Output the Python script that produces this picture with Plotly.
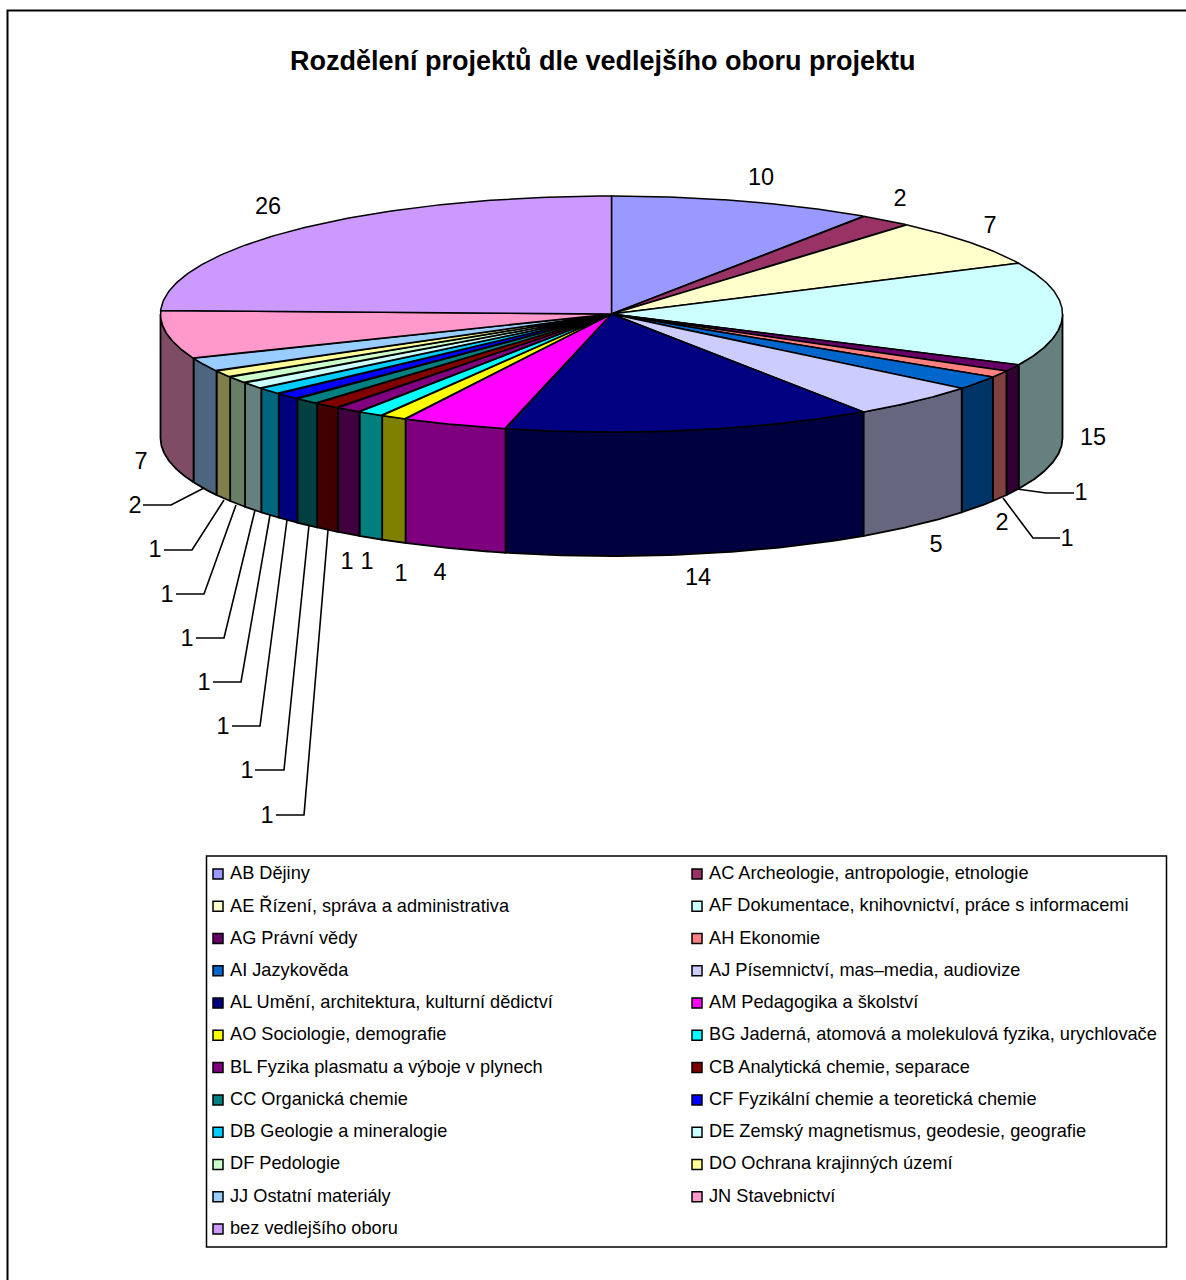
import numpy as np
import plotly.graph_objects as go

TITLE = "Rozdělení projektů dle vedlejšího oboru projektu"
categories = [
    "AB Dějiny", "AC Archeologie, antropologie, etnologie",
    "AE Řízení, správa a administrativa", "AF Dokumentace, knihovnictví, práce s informacemi",
    "AG Právní vědy", "AH Ekonomie",
    "AI Jazykověda", "AJ Písemnictví, mas–media, audiovize",
    "AL Umění, architektura, kulturní dědictví", "AM Pedagogika a školství",
    "AO Sociologie, demografie", "BG Jaderná, atomová a molekulová fyzika, urychlovače",
    "BL Fyzika plasmatu a výboje v plynech", "CB Analytická chemie, separace",
    "CC Organická chemie", "CF Fyzikální chemie a teoretická chemie",
    "DB Geologie a mineralogie", "DE Zemský magnetismus, geodesie, geografie",
    "DF Pedologie", "DO Ochrana krajinných území",
    "JJ Ostatní materiály", "JN Stavebnictví",
    "bez vedlejšího oboru",
]
values = [10, 2, 7, 15, 1, 1, 2, 5, 14, 4, 1, 1, 1, 1, 1, 1, 1, 1, 1, 1, 2, 7, 26]
colors = ["#9999FF", "#993366", "#FFFFCC", "#CCFFFF", "#660066", "#FF8080", "#0066CC", "#CCCCFF",
          "#000080", "#FF00FF", "#FFFF00", "#00FFFF", "#800080", "#800000", "#008080", "#0000FF",
          "#00CCFF", "#CCFFFF", "#CCFFCC", "#FFFF99", "#99CCFF", "#FF99CC", "#CC99FF"]

# value-label placement, in slice order
label_x = [761, 900, 990, 1093, 1081, 1067, 1002, 936, 698, 440, 401, 367, 347,
           267, 247, 223, 204, 187, 167, 155, 135, 141, 268]
label_y = [177, 198, 225, 437, 492, 538, 522, 544, 577, 572, 573, 561, 561,
           815, 770, 726, 682, 638, 594, 549, 505, 461, 206]
leader_x = {4: [1046, 1017], 5: [1033, 1003], 13: [304, 328], 14: [284, 309], 15: [260, 287],
            16: [241, 270], 17: [224, 255], 18: [204, 236], 19: [192, 224], 20: [171, 204]}
leader_y = {4: [493, 489], 5: [538, 498], 13: [815, 530], 14: [770, 525], 15: [726, 520],
            16: [682, 515], 17: [638, 510], 18: [594, 505], 19: [550, 500], 20: [505, 488]}
leader_gap = {4: 1074, 5: 1060, 13: 276, 14: 255, 15: 232, 16: 213, 17: 196, 18: 176, 19: 164, 20: 143}

CX, CY, RX, RY, DEPTH = 611.5, 314, 451, 118, 124
W, H = 1186, 1280
LABEL_SHIFT = 2


def darken(c):
    r, g, b = (int(c[i:i + 2], 16) for i in (1, 3, 5))
    return f"rgb({r // 2},{g // 2},{b // 2})"


def ellipse(t, dy=0):
    return CX + RX * np.sin(t), CY - RY * np.cos(t) + dy


vals = np.array(values, dtype=float)
edges = np.concatenate([[0], np.cumsum(vals)]) / vals.sum() * 2 * np.pi
fig = go.Figure()

# visible outer wall
for i, name in enumerate(categories):
    a, b = max(edges[i], np.pi / 2), min(edges[i + 1], 3 * np.pi / 2)
    if b <= a:
        continue
    t = np.linspace(a, b, 60)
    x0, y0 = ellipse(t)
    x1, y1 = ellipse(t[::-1], DEPTH)
    fig.add_trace(go.Scatter(x=np.r_[x0, x1, x0[0]], y=np.r_[y0, y1, y0[0]], mode="lines", fill="toself",
                             fillcolor=darken(colors[i]), line=dict(color="#000", width=1.8),
                             name=name, hoverinfo="name", showlegend=False))
# top face
for i, name in enumerate(categories):
    t = np.linspace(edges[i], edges[i + 1], 120)
    x0, y0 = ellipse(t)
    fig.add_trace(go.Scatter(x=np.r_[CX, x0, CX], y=np.r_[CY, y0, CY], mode="lines", fill="toself",
                             fillcolor=colors[i], line=dict(color="#000", width=1.5),
                             name=name, hovertext=f"{name}: {values[i]}", hoverinfo="text", showlegend=False))
# leader lines
for i, xs in leader_x.items():
    fig.add_trace(go.Scatter(x=[leader_gap[i]] + xs, y=[leader_y[i][0]] + leader_y[i],
                             mode="lines", line=dict(color="#000", width=1.6), hoverinfo="skip", showlegend=False))
# value labels
fig.add_trace(go.Scatter(x=label_x, y=[v + LABEL_SHIFT for v in label_y], mode="text", text=[str(v) for v in values],
                         textfont=dict(family="Liberation Sans", size=23.5, color="#000"),
                         hoverinfo="skip", showlegend=False))

# legend
LEG_X = [218, 697]
LEG_TX = [230, 709]
LEG_Y0, LEG_DY = 874, 32.27
col = [i % 2 for i in range(len(categories))]
row = [i // 2 for i in range(len(categories))]
fig.add_trace(go.Scatter(x=[LEG_X[c] for c in col], y=[LEG_Y0 + LEG_DY * r for r in row], mode="markers",
                         marker=dict(symbol="square", size=10, color=colors, line=dict(color="#000", width=1.5)),
                         hoverinfo="skip", showlegend=False))
for i, name in enumerate(categories):
    fig.add_annotation(x=LEG_TX[col[i]], y=LEG_Y0 + LEG_DY * row[i], text=name, showarrow=False, xanchor="left",
                       yanchor="middle", xshift=-2, yshift=1, font=dict(family="Liberation Sans", size=18.2, color="#000"))

fig.add_annotation(x=602.5, y=61, text=f"<b>{TITLE}</b>", showarrow=False,
                   font=dict(family="Liberation Sans", size=27, color="#000"))

fig.update_layout(
    width=W, height=H, margin=dict(l=0, r=0, t=0, b=0), paper_bgcolor="#fff", plot_bgcolor="#fff",
    xaxis=dict(range=[0, W], visible=False, fixedrange=True),
    yaxis=dict(range=[H, 0], visible=False, fixedrange=True),
    shapes=[
        dict(type="rect", line=dict(color="#000", width=2), fillcolor="rgba(0,0,0,0)",
             x0=7.5, x1=W + 20, y0=10.5, y1=H + 20),
        dict(type="rect", line=dict(color="#000", width=1.5), fillcolor="rgba(0,0,0,0)",
             x0=206.5, x1=1166.5, y0=856, y1=1247),
    ],
)
fig.write_html("out.html", config={"displayModeBar": False},
               post_script="document.body.style.margin='0';document.documentElement.style.overflow='hidden';")
